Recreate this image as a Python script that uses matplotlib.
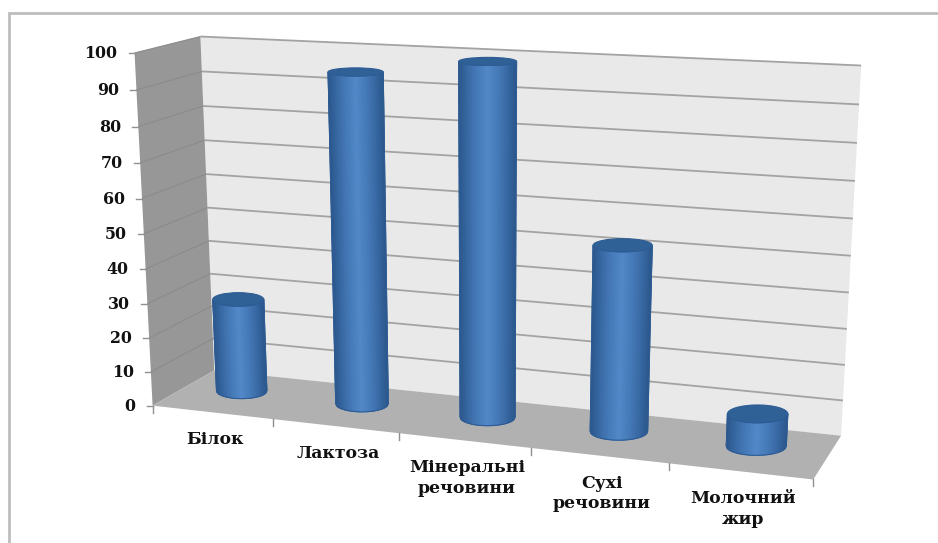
"""Cylinder column chart on a 3D box, projected by hand onto a pixel-sized axes."""
import numpy as np
import matplotlib
matplotlib.use("Agg")
import matplotlib.pyplot as plt
from matplotlib.colors import LinearSegmentedColormap
from matplotlib.patches import Ellipse, Polygon, Rectangle

categories = ["Білок", "Лактоза", "Мінеральні\nречовини", "Сухі\nречовини", "Молочний\nжир"]
values = [27.5, 94.5, 99, 52, 9]
y_ticks = list(range(0, 101, 10))

W, H = 938, 543
WALL = "#e9e9e9"
SIDE = "#979797"
FLOOR = "#b1b1b1"
GRID = "#a3a3a1"
FONT = ["DejaVu Serif"]

# box corners (category pos, value, depth) and where they land on the canvas
BOX = [((0, 0, 0), (155, 403)), ((0, 100, 0), (133, 52)),
       ((0, 0, 1), (212, 372)), ((0, 100, 1), (202, 37)),
       ((5, 0, 1), (842, 433)), ((5, 100, 1), (861, 66)),
       ((5, 0, 0), (813, 480)), ((1, 0, 0), (273, 420)),
       ((2, 0, 0), (399, 434)), ((4, 0, 0), (668, 465))]

BODY = LinearSegmentedColormap.from_list(
    "body", ["#2b578c", "#3a6ba6", "#477cba", "#5489c9", "#477cba", "#3a6ba6", "#2b578c"])


def fit_camera(pairs):
    rows, rhs = [], []
    for (x, y, z), (u, v) in pairs:
        rows.append([x, y, z, 1, 0, 0, 0, 0, -u * x, -u * y, -u * z])
        rows.append([0, 0, 0, 0, x, y, z, 1, -v * x, -v * y, -v * z])
        rhs += [u, v]
    p = np.linalg.lstsq(np.array(rows, float), np.array(rhs, float), rcond=None)[0]
    return np.append(p, 1.0).reshape(3, 4)


CAM = fit_camera(BOX)


def proj(x, y, z):
    x, y, z = np.broadcast_arrays(x, y, z)
    pts = np.stack([x, y, z, np.ones_like(x, dtype=float)], axis=-1)
    q = pts @ CAM.T
    return q[..., 0] / q[..., 2], q[..., 1] / q[..., 2]


def quad(ax, corners, color, z=1):
    xy = np.column_stack(proj(*np.array(corners, float).T))
    ax.add_patch(Polygon(xy, closed=True, fc=color, ec="none", zorder=z))


def end_cap(cx, h, cz, rx, rz):
    # screen-upright ellipse for a disc at height h
    u0, v0 = proj(cx, float(h), cz)
    ul, _ = proj(cx - rx, float(h), cz)
    ur, _ = proj(cx + rx, float(h), cz)
    _, vb = proj(cx, float(h), cz + rz)
    _, vf = proj(cx, float(h), cz - rz)
    return float(u0), float(v0), float(ur - ul) / 2, abs(float(vf - vb)) / 2


def cylinder(ax, cx, h, rx=0.215, rz=0.22, cz=0.57, zorder=5):
    u0, v0, a0, b0 = end_cap(cx, 0, cz, rx, rz)
    u1, v1, a1, b1 = end_cap(cx, h, cz, rx, rz)
    t = np.linspace(-1, 1, 61)
    arc = np.sqrt(1 - t ** 2)
    X = np.vstack([u0 + a0 * t, u1 + a1 * t])
    Y = np.vstack([v0 + b0 * arc, v1 + b1 * arc])
    C = np.vstack([t, t])
    ax.pcolormesh(X, Y, C, shading="gouraud", cmap=BODY, vmin=-1, vmax=1, zorder=zorder)
    # soft edge around the body, then the darker lid
    outline = np.column_stack([np.r_[X[0], X[1][::-1]], np.r_[Y[0], Y[1][::-1]]])
    ax.add_patch(Polygon(outline, fc="none", ec="#2d5c94", lw=0.8, zorder=zorder + 0.2))
    ax.add_patch(Ellipse((u1, v1), 2 * a1, 2 * b1, fc="#2f6196", ec="#2d5c94", lw=0.8,
                         zorder=zorder + 0.5))


fig = plt.figure(figsize=(W / 100, H / 100), dpi=100)
ax = fig.add_axes([0, 0, 1, 1])
ax.set_xlim(0, W)
ax.set_ylim(H, 0)
ax.axis("off")

# outer chart frame
ax.add_patch(Rectangle((9, 13), W + 30, H + 30, fc="white", ec="#bdbdbd", lw=2, zorder=0))

# walls and floor
quad(ax, [(0, 0, 1), (5, 0, 1), (5, 100, 1), (0, 100, 1)], WALL)
quad(ax, [(0, 0, 0), (0, 0, 1), (0, 100, 1), (0, 100, 0)], SIDE)
quad(ax, [(0, 0, 0), (5, 0, 0), (5, 0, 1), (0, 0, 1)], FLOOR)

# gridlines run along the side wall and across the back wall
for t in y_ticks:
    if t > 0:
        u, v = proj(np.array([5.0, 0, 0]), float(t), np.array([1.0, 1, 0]))
        ax.plot(u[:2], v[:2], color=GRID, lw=1.3, zorder=2, solid_capstyle="butt")
        ax.plot(u[1:], v[1:], color="#8b8b8b", lw=0.8, zorder=2, solid_capstyle="butt")
    u0, v0 = proj(0.0, float(t), 0.0)
    ax.plot([u0 - 6, u0], [v0, v0], color="#909090", lw=1, zorder=3)
    ax.text(u0 - 17, v0 + 0.5, str(t), ha="right", va="center", family=FONT,
            weight="bold", fontsize=11.4, color="#111111", zorder=6)

# category axis ticks along the floor's front edge
for i in range(6):
    u0, v0 = proj(float(i), 0.0, 0.0)
    ax.plot([u0, u0], [v0, v0 + 7], color="#909090", lw=1, zorder=3)

for i, (name, val) in enumerate(zip(categories, values)):
    cylinder(ax, i + 0.458 + 0.006 * i, val)
    u0, v0 = proj(i + 0.5, 0.0, 0.0)
    ax.text(u0 + 3, v0 + 19, name, ha="center", va="top", family=FONT, weight="bold",
            fontsize=12.4, linespacing=1.25, color="#111111", zorder=6)

fig.savefig("out.png", dpi=100)
